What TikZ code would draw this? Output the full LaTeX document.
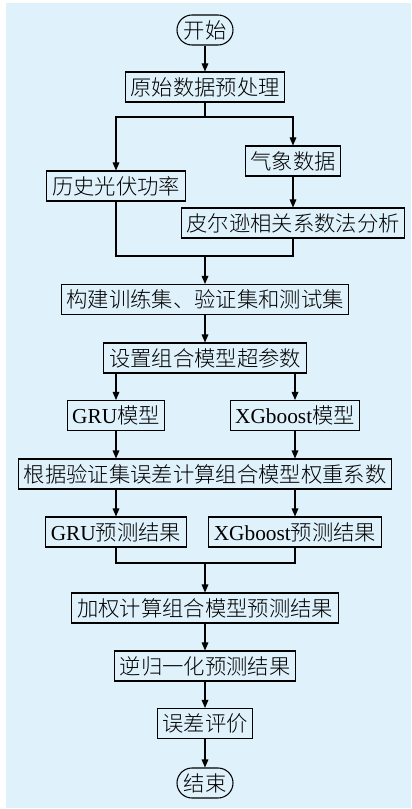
\documentclass[tikz,border=0pt]{standalone}
\usepackage{fontspec}
\setmainfont{Liberation Serif}
\newfontfamily\cjk{Noto Sans CJK SC Light}
\usetikzlibrary{arrows.meta}

\begin{document}
\begin{tikzpicture}[>={Triangle[length=6pt, width=5pt]}, x=0.75pt, y=-0.75pt, line width=0.8pt]
\definecolor{panelblue}{RGB}{223, 241, 250}
\tikzset{
  box/.style={draw, inner xsep=3.8pt, inner ysep=0pt, minimum height=22.5pt,
    font=\cjk\fontsize{16pt}{18pt}\selectfont},
  term/.style={box, rounded corners=11.25pt, minimum width=42pt},
  flow/.style={->}
}
\useasboundingbox (0,0) rectangle (411,809);
\fill[panelblue] (6,3) rectangle (411,808);
% Data preparation
\node[term] (start) at (205,30) {开始};
\node[box] (pre) at (205,87) {原始数据预处理};
\node[box] (hist) at (116,186) {历史光伏功率};
\node[box] (met) at (293,161) {气象数据};
\node[box] (pearson) at (293,223) {皮尔逊相关系数法分析};
\node[box, minimum width=213.75pt] (sets) at (205,299.5) {构建训练集、验证集和测试集};
% Combined model
\node[box] (param) at (205,358) {设置组合模型超参数};
\node[box] (gru) at (116,415.5) {{\rmfamily GRU}模型};
\node[box] (xgb) at (295,415.5) {{\rmfamily XGboost}模型};
\node[box] (weight) at (205,474) {根据验证集误差计算组合模型权重系数};
\node[box] (grures) at (116,532) {{\rmfamily GRU}预测结果};
\node[box] (xgbres) at (295,532) {{\rmfamily XGboost}预测结果};
% Output
\node[box] (comb) at (205,608) {加权计算组合模型预测结果};
\node[box] (inv) at (205,666) {逆归一化预测结果};
\node[box] (eval) at (205,723.5) {误差评价};
\node[term] (stop) at (205,783) {结束};
% Connectors
\coordinate (fork) at (205,117);
\coordinate (merge1) at (205,256);
\coordinate (merge2) at (205,563);
\draw[flow] (start) -- (pre);
\draw (pre) -- (fork);
\draw[flow] (fork) -| (hist);
\draw[flow] (fork) -| (met);
\draw[flow] (met) -- (pearson);
\draw (hist) |- (merge1);
\draw (pearson) |- (merge1);
\draw[flow] (merge1) -- (sets);
\draw[flow] (sets) -- (param);
\draw[flow] (param.south -| gru) -- (gru);
\draw[flow] (param.south -| xgb) -- (xgb);
\draw[flow] (gru) -- (gru |- weight.north);
\draw[flow] (xgb) -- (xgb |- weight.north);
\draw[flow] (weight.south -| grures) -- (grures);
\draw[flow] (weight.south -| xgbres) -- (xgbres);
\draw (grures) |- (merge2);
\draw (xgbres) |- (merge2);
\draw[flow] (merge2) -- (comb);
\draw[flow] (comb) -- (inv);
\draw[flow] (inv) -- (eval);
\draw[flow] (eval) -- (stop);
\end{tikzpicture}
\end{document}
